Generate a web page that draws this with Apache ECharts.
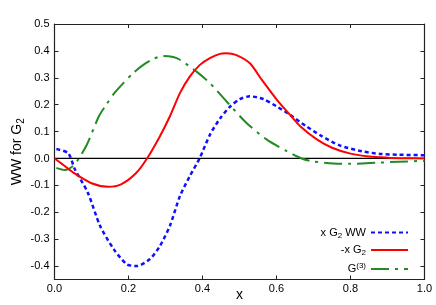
<!DOCTYPE html>
<html><head><meta charset="utf-8">
<script src="https://cdn.jsdelivr.net/npm/echarts@6/dist/echarts.min.js"></script>
<style>html,body{margin:0;padding:0;background:#fff}#c{width:436px;height:305px}</style>
</head><body><div id="c"></div>
<script>
const blueX = [0.005, 0.037, 0.055, 0.09, 0.123, 0.16, 0.195, 0.222, 0.258, 0.285, 0.312, 0.339, 0.366, 0.392, 0.42, 0.447, 0.474, 0.501, 0.528, 0.564, 0.6, 0.636, 0.68, 0.72, 0.77, 0.83, 0.88, 0.93, 1.0];
const blueY = [0.035, 0.02, -0.04, -0.127, -0.25, -0.337, -0.393, -0.4, -0.374, -0.325, -0.25, -0.14, -0.065, 0, 0.088, 0.148, 0.192, 0.221, 0.231, 0.221, 0.194, 0.163, 0.12, 0.085, 0.049, 0.027, 0.017, 0.014, 0.012];
const redX = [0, 0.02, 0.05, 0.1, 0.145, 0.18, 0.22, 0.25, 0.285, 0.312, 0.339, 0.366, 0.393, 0.42, 0.447, 0.465, 0.49, 0.528, 0.56, 0.6, 0.636, 0.664, 0.71, 0.75, 0.8, 0.85, 0.9, 0.95, 1.0];
const redY = [0, -0.02, -0.052, -0.092, -0.105, -0.096, -0.055, 0, 0.083, 0.157, 0.243, 0.305, 0.348, 0.373, 0.389, 0.391, 0.385, 0.354, 0.293, 0.22, 0.163, 0.12, 0.07, 0.04, 0.018, 0.007, 0.003, 0.001, 0];
const greenX = [0.005, 0.028, 0.05, 0.065, 0.087, 0.12, 0.14, 0.16, 0.186, 0.213, 0.24, 0.267, 0.294, 0.321, 0.339, 0.384, 0.42, 0.465, 0.519, 0.574, 0.628, 0.668, 0.695, 0.754, 0.8, 0.87, 0.93, 1.0];
const greenY = [-0.035, -0.043, -0.028, -0.002, 0.05, 0.157, 0.2, 0.24, 0.28, 0.318, 0.348, 0.37, 0.381, 0.377, 0.367, 0.323, 0.28, 0.212, 0.132, 0.07, 0.027, 0, -0.01, -0.019, -0.02, -0.016, -0.012, -0.009];
const xTicks = [0, 0.2, 0.4, 0.6, 0.8, 1.0];
const yTicks = [-0.4, -0.3, -0.2, -0.1, 0, 0.1, 0.2, 0.3, 0.4, 0.5];
const names = ['x G2 WW', '-x G2', 'G(3)'];

const zip = (a, b) => a.map((v, i) => [v, b[i]]);
const FONT = 'Liberation Sans';
const AX = '#222';
const rich = {
  n: {fontSize: 11, fontFamily: FONT, color: '#000', lineHeight: 14},
  sub: {fontSize: 8, fontFamily: FONT, color: '#000', lineHeight: 7, verticalAlign: 'bottom'},
  sup: {fontSize: 8, fontFamily: FONT, color: '#000', lineHeight: 7, verticalAlign: 'top'},
  yn: {fontSize: 14, fontFamily: FONT, color: '#000', lineHeight: 18},
  ysub: {fontSize: 10, fontFamily: FONT, color: '#000', lineHeight: 10, verticalAlign: 'bottom'}
};
const legendFmt = {
  'x G2 WW': '{n|x G}{sub|2}{n| WW}',
  '-x G2': '{n|-x G}{sub|2}',
  'G(3)': '{n|G}{sup|(3)}'
};
const chart = echarts.init(document.getElementById('c'), null, {renderer: 'canvas'});
function axis(extra, ticks) {
  return Object.assign({
    type: 'value',
    nameMoveOverlap: false,
    axisLine: {show: true, onZero: false, lineStyle: {color: AX, width: 1.2}},
    axisTick: {show: true, inside: true, length: 4, customValues: ticks, lineStyle: {color: AX, width: 1}},
    splitLine: {show: false}
  }, extra);
}
chart.setOption({
  animation: false,
  grid: {left: 54.5, right: 11.5, top: 24, bottom: 25.5, containLabel: false, outerBoundsMode: 'none'},
  xAxis: [
    axis({min: 0, max: 1, position: 'bottom',
      name: 'x', nameLocation: 'middle', nameGap: 9,
      nameTextStyle: {fontSize: 14, fontFamily: FONT, color: '#000'},
      axisLabel: {fontSize: 11, fontFamily: FONT, color: '#000', margin: 4, customValues: xTicks, formatter: v => v.toFixed(1)}
    }, xTicks),
    axis({min: 0, max: 1, position: 'top', axisLabel: {show: false}}, xTicks)
  ],
  yAxis: [
    axis({min: -0.45, max: 0.5, position: 'left',
      name: '{yn|WW for G}{ysub|2}', nameLocation: 'middle', nameGap: 28, nameRotate: 90,
      nameTextStyle: {rich: rich},
      axisLabel: {fontSize: 11, fontFamily: FONT, color: '#000', margin: 5, customValues: yTicks, formatter: v => v.toFixed(1)}
    }, yTicks),
    axis({min: -0.45, max: 0.5, position: 'right', axisLabel: {show: false}}, yTicks)
  ],
  legend: {
    orient: 'vertical', right: 22, top: 222, align: 'right',
    itemWidth: 37, itemHeight: 10, itemGap: 5,
    data: names,
    itemStyle: {opacity: 0},
    formatter: n => legendFmt[n],
    textStyle: {rich: rich}
  },
  series: [
    {type: 'line', name: 'zero', data: [[0, 0], [1, 0]], symbol: 'none', silent: true,
      lineStyle: {color: '#000', width: 1.2}, z: 1},
    {type: 'line', name: names[0], data: zip(blueX, blueY), smooth: 0.25, symbol: 'none',
      lineStyle: {color: '#1010ff', width: 2.5, type: [4, 3]}, itemStyle: {color: '#1010ff'}, z: 3},
    {type: 'line', name: names[1], data: zip(redX, redY), smooth: 0.25, symbol: 'none',
      lineStyle: {color: '#ff0000', width: 2}, itemStyle: {color: '#ff0000'}, z: 4},
    {type: 'line', name: names[2], data: zip(greenX, greenY), smooth: 0.25, symbol: 'none',
      lineStyle: {color: '#228b22', width: 2, type: [18, 6, 3, 6]}, itemStyle: {color: '#228b22'}, z: 2}
  ]
});
</script></body></html>
